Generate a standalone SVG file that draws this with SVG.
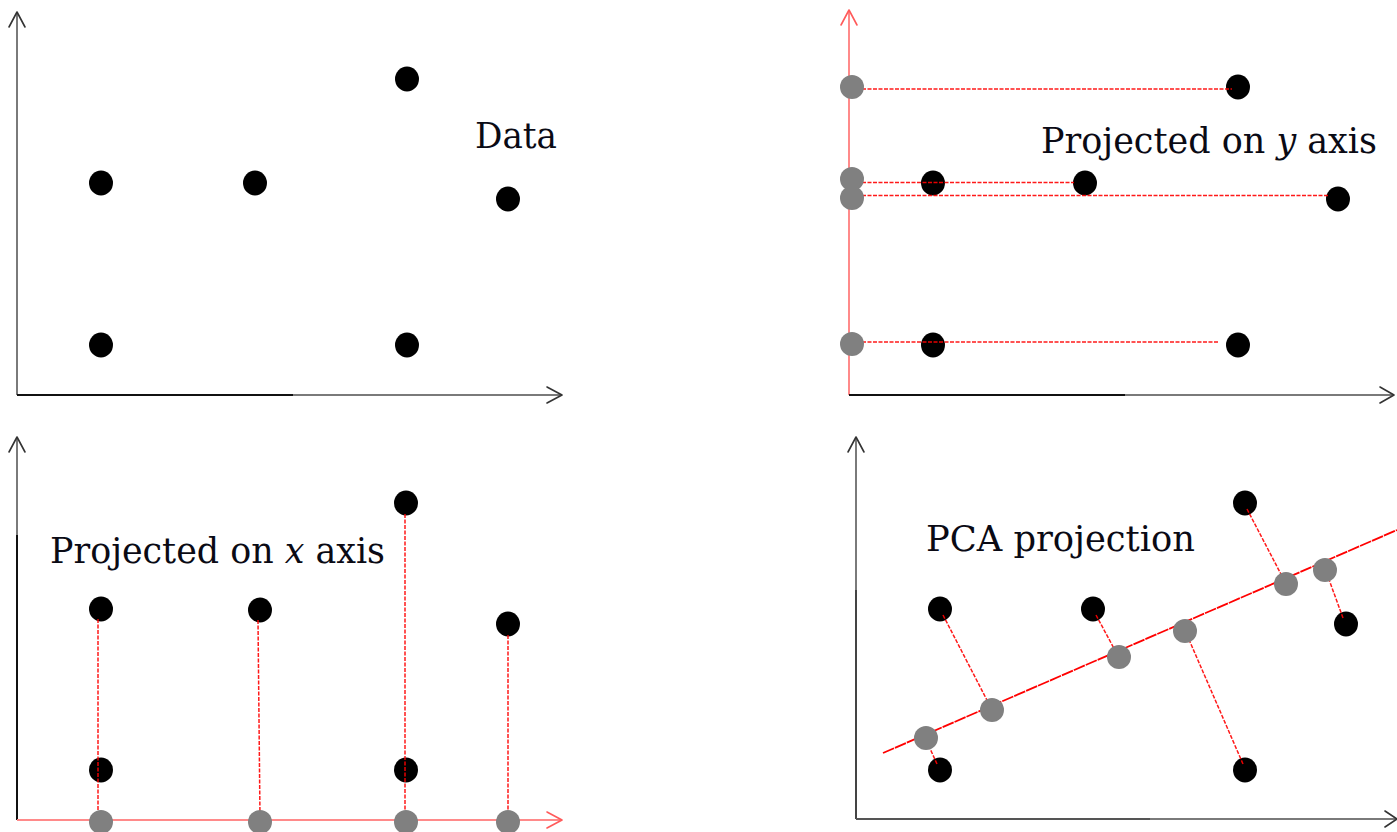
<svg xmlns="http://www.w3.org/2000/svg" width="1397" height="832" viewBox="0 0 1397 832">
<style>
.bg{fill:#ffffff}
.ax{stroke:#7a7a7a;stroke-width:2;fill:none}
.axd{stroke:#111111;stroke-width:2;fill:none}
.axr{stroke:#ff8a8a;stroke-width:2;fill:none}
.arr{stroke:#333333;stroke-width:1.6;fill:none;stroke-linecap:round;stroke-linejoin:round}
.arrr{stroke:#ff5a5a;stroke-width:1.6;fill:none;stroke-linecap:round;stroke-linejoin:round}
.dash{stroke:#ff0000;stroke-width:1.5;stroke-dasharray:4 1.5;fill:none;opacity:0.9}
.pca{stroke:#ff0000;stroke-width:1.8;stroke-dasharray:12 1;fill:none}
.dot{fill:#000000}
.proj{fill:#808080}
.lbl{font-family:"DejaVu Serif","Liberation Serif",serif;font-size:35px;fill:#0a0a14}
.it{font-style:italic}
</style>
<rect class="bg" x="0" y="0" width="1397" height="832"/>

<g id="connectors">
  <line class="ax" x1="17" y1="395" x2="17" y2="13"/>
  <line class="axd" x1="17" y1="395" x2="293" y2="395"/>
  <line class="ax" x1="293" y1="395" x2="561" y2="395"/>
  <polyline class="arr" points="9,27 17,12 25,27"/>
  <polyline class="arr" points="547,387 562,395 547,403"/>

  <line class="axr" x1="849" y1="395" x2="849" y2="12"/>
  <line class="axd" x1="849" y1="395" x2="1125" y2="395"/>
  <line class="ax" x1="1125" y1="395" x2="1393" y2="395"/>
  <polyline class="arrr" points="841,25 849,10 857,25"/>
  <polyline class="arr" points="1380,387 1394,395 1380,403"/>

  <line class="ax" x1="17" y1="438" x2="17" y2="535"/>
  <line class="axd" x1="17" y1="535" x2="17" y2="820"/>
  <line class="axr" x1="17" y1="820" x2="561" y2="820"/>
  <polyline class="arr" points="9,452 17,437 25,452"/>
  <polyline class="arrr" points="547,812 562,820 547,828"/>

  <line class="ax" x1="856" y1="438" x2="856" y2="590"/>
  <line class="axd" x1="856" y1="590" x2="856" y2="819" style="stroke:#444"/>
  <line class="axd" x1="856" y1="819" x2="1150" y2="819" style="stroke:#555"/>
  <line class="ax" x1="1150" y1="819" x2="1397" y2="819"/>
  <polyline class="arr" points="848,452 856,437 864,452"/>
  <polyline class="arr" points="1385,811 1397,819 1385,827"/>
</g>

<g id="panel-data">
  <ellipse class="dot" cx="101" cy="183" rx="12" ry="12.5"/>
  <ellipse class="dot" cx="255" cy="183" rx="12" ry="12.5"/>
  <ellipse class="dot" cx="407" cy="79" rx="12" ry="12.5"/>
  <ellipse class="dot" cx="508" cy="199" rx="12" ry="12.5"/>
  <ellipse class="dot" cx="101" cy="345" rx="12" ry="12.5"/>
  <ellipse class="dot" cx="407" cy="345" rx="12" ry="12.5"/>
  <text class="lbl" x="475" y="148" textLength="82" lengthAdjust="spacingAndGlyphs">Data</text>
</g>

<g id="panel-y">
  <ellipse class="dot" cx="1238" cy="87" rx="12" ry="12.5"/>
  <ellipse class="dot" cx="933" cy="183" rx="12" ry="12.5"/>
  <ellipse class="dot" cx="1085" cy="183" rx="12" ry="12.5"/>
  <ellipse class="dot" cx="1338" cy="199" rx="12" ry="12.5"/>
  <ellipse class="dot" cx="933" cy="345" rx="12" ry="12.5"/>
  <ellipse class="dot" cx="1238" cy="345" rx="12" ry="12.5"/>
  <line class="dash" x1="862" y1="89" x2="1232" y2="89"/>
  <line class="dash" x1="862" y1="182.5" x2="1074" y2="182.5"/>
  <line class="dash" x1="862" y1="195.5" x2="1328" y2="195.5"/>
  <line class="dash" x1="862" y1="342" x2="1218" y2="342"/>
  <circle class="proj" cx="852" cy="87" r="12"/>
  <circle class="proj" cx="852" cy="179" r="12"/>
  <circle class="proj" cx="852" cy="198" r="12"/>
  <circle class="proj" cx="852" cy="344" r="12"/>
  <text class="lbl" x="1041" y="153" textLength="336" lengthAdjust="spacingAndGlyphs">Projected on <tspan class="it">y</tspan> axis</text>
</g>

<g id="panel-x">
  <ellipse class="dot" cx="101" cy="609" rx="12" ry="12.5"/>
  <ellipse class="dot" cx="260" cy="610" rx="12" ry="12.5"/>
  <ellipse class="dot" cx="406" cy="503" rx="12" ry="12.5"/>
  <ellipse class="dot" cx="508" cy="624" rx="12" ry="12.5"/>
  <ellipse class="dot" cx="101" cy="770" rx="12" ry="12.5"/>
  <ellipse class="dot" cx="406" cy="770" rx="12" ry="12.5"/>
  <line class="dash" x1="98" y1="619" x2="98" y2="818"/>
  <line class="dash" x1="258" y1="620" x2="260" y2="818"/>
  <line class="dash" x1="405" y1="514" x2="405" y2="818"/>
  <line class="dash" x1="508" y1="635" x2="508" y2="818"/>
  <circle class="proj" cx="101" cy="822" r="12"/>
  <circle class="proj" cx="260" cy="822" r="12"/>
  <circle class="proj" cx="406" cy="822" r="12"/>
  <circle class="proj" cx="508" cy="822" r="12"/>
  <text class="lbl" x="50" y="563" textLength="335" lengthAdjust="spacingAndGlyphs">Projected on <tspan class="it">x</tspan> axis</text>
</g>

<g id="panel-pca">
  <ellipse class="dot" cx="940" cy="609" rx="12" ry="12.5"/>
  <ellipse class="dot" cx="1093" cy="609" rx="12" ry="12.5"/>
  <ellipse class="dot" cx="1245" cy="503" rx="12" ry="12.5"/>
  <ellipse class="dot" cx="1346" cy="624" rx="12" ry="12.5"/>
  <ellipse class="dot" cx="940" cy="770" rx="12" ry="12.5"/>
  <ellipse class="dot" cx="1245" cy="770" rx="12" ry="12.5"/>
  <line class="pca" x1="883" y1="753" x2="1397" y2="530"/>
  <line class="dash" x1="943" y1="615" x2="990" y2="706"/>
  <line class="dash" x1="1096" y1="615" x2="1117" y2="654"/>
  <line class="dash" x1="1247" y1="509" x2="1284" y2="580"/>
  <line class="dash" x1="1343" y1="618" x2="1327" y2="574"/>
  <line class="dash" x1="937" y1="764" x2="928" y2="744"/>
  <line class="dash" x1="1243" y1="764" x2="1187" y2="635"/>
  <circle class="proj" cx="926" cy="738" r="12"/>
  <circle class="proj" cx="992" cy="710" r="12"/>
  <circle class="proj" cx="1119" cy="657" r="12"/>
  <circle class="proj" cx="1185" cy="631" r="12"/>
  <circle class="proj" cx="1286" cy="584" r="12"/>
  <circle class="proj" cx="1325" cy="570" r="12"/>
  <text class="lbl" x="926" y="551" textLength="269" lengthAdjust="spacingAndGlyphs">PCA projection</text>
</g>
</svg>
